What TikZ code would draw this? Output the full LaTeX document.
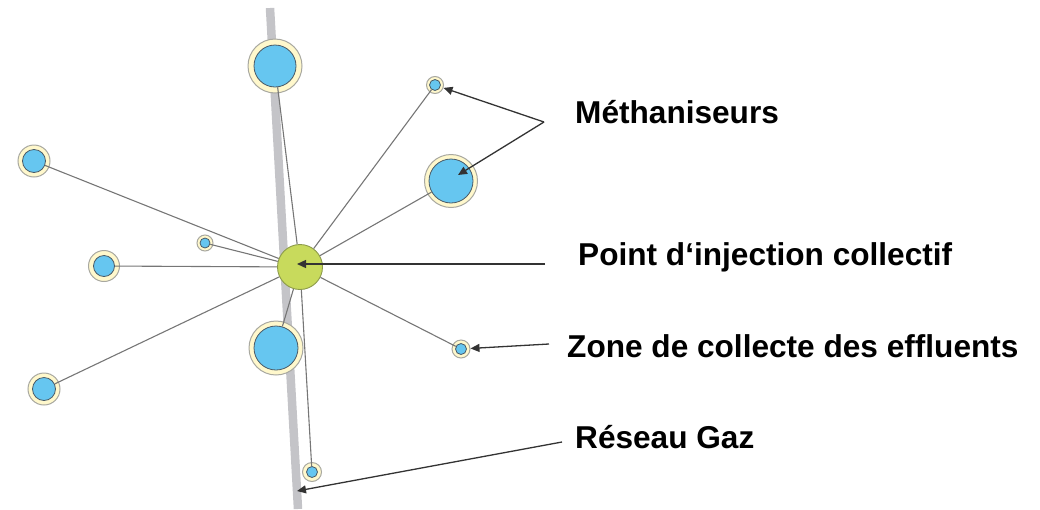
\documentclass[tikz,border=0pt]{standalone}
\usepackage{fontspec}
\setmainfont{Liberation Sans}
\usetikzlibrary{arrows.meta}
\definecolor{pipegrey}{HTML}{C4C4C8}
\definecolor{ringfill}{HTML}{FFF8CC}
\definecolor{ringline}{HTML}{A8A8A0}
\definecolor{sitefill}{HTML}{66C6F0}
\definecolor{siteline}{HTML}{4A5A66}
\definecolor{hubfill}{HTML}{C8DA5C}
\definecolor{hubline}{HTML}{8C9A4A}
\definecolor{linkgrey}{HTML}{767676}
\definecolor{arrowgrey}{HTML}{333333}
\tikzset{
  ring/.style={circle,draw=ringline,fill=ringfill,line width=1pt,inner sep=0pt,minimum size=#1},
  site/.style={circle,draw=siteline,fill=sitefill,line width=0.8pt,inner sep=0pt,minimum size=#1},
  hub/.style={circle,draw=hubline,fill=hubfill,line width=0.9pt,inner sep=0pt,minimum size=45pt},
  link/.style={draw=linkgrey,line width=1.1pt},
  pointer/.style={draw=arrowgrey,line width=1.3pt,-{Triangle[length=9pt,width=8pt]}},
  caption/.style={anchor=base west,inner sep=0pt,font=\fontsize{31.6}{38}\selectfont\bfseries}
}
\begin{document}
\begin{tikzpicture}[x=1pt,y=-1pt]
\useasboundingbox (0,0) rectangle (1040,509);
% gas pipeline
\coordinate (ptop) at (270,8);
\coordinate (pbot) at (298,509);
\draw[pipegrey,line width=8.5pt] (ptop) -- (pbot);
% collection sites: outer ring + inner digester
\foreach \n/\x/\y/\ro/\ri in {1/275/66/54/42, 2/435/85/17/11, 3/451/181/53/44,
  4/34/161/32/23, 5/104/266/31/21, 6/205/243/16/10, 8/276/348/54/44,
  9/461/349/18/11, 10/44/389/32/23, 11/312/472/19/11}{
  \node[ring=\ro pt] (o\n) at (\x,\y) {};
  \node[site=\ri pt] (i\n) at (\x,\y) {};
}
% collective injection point
\node[hub] (g) at (300,267) {};
% links from the injection point
\foreach \n in {1,2,3,4,5,6,8,9,10,11}{
  \draw[link] (g) -- (i\n);
}
% captions
\node[caption] (tm) at (575,123) {Méthaniseurs};
\node[caption] (tp) at (578,265) {Point d‘injection collectif};
\node[caption] (tz) at (567,357) {Zone de collecte des effluents};
\node[caption] (tr) at (575,448) {Réseau Gaz};
% pointers
\coordinate (am) at (544,122);
\coordinate (ap) at (545,264);
\coordinate (az) at (549,344);
\coordinate (ar) at (562,442);
\coordinate (tip3) at (458,175);
\coordinate (tipg) at (297,264);
\coordinate (tipr) at (297,491);
\draw[pointer] (am) -- (o2);
\draw[pointer] (am) -- (tip3);
\draw[pointer] (ap) -- (tipg);
\draw[pointer] (az) -- (o9);
\draw[pointer] (ar) -- (tipr);
\end{tikzpicture}
\end{document}
